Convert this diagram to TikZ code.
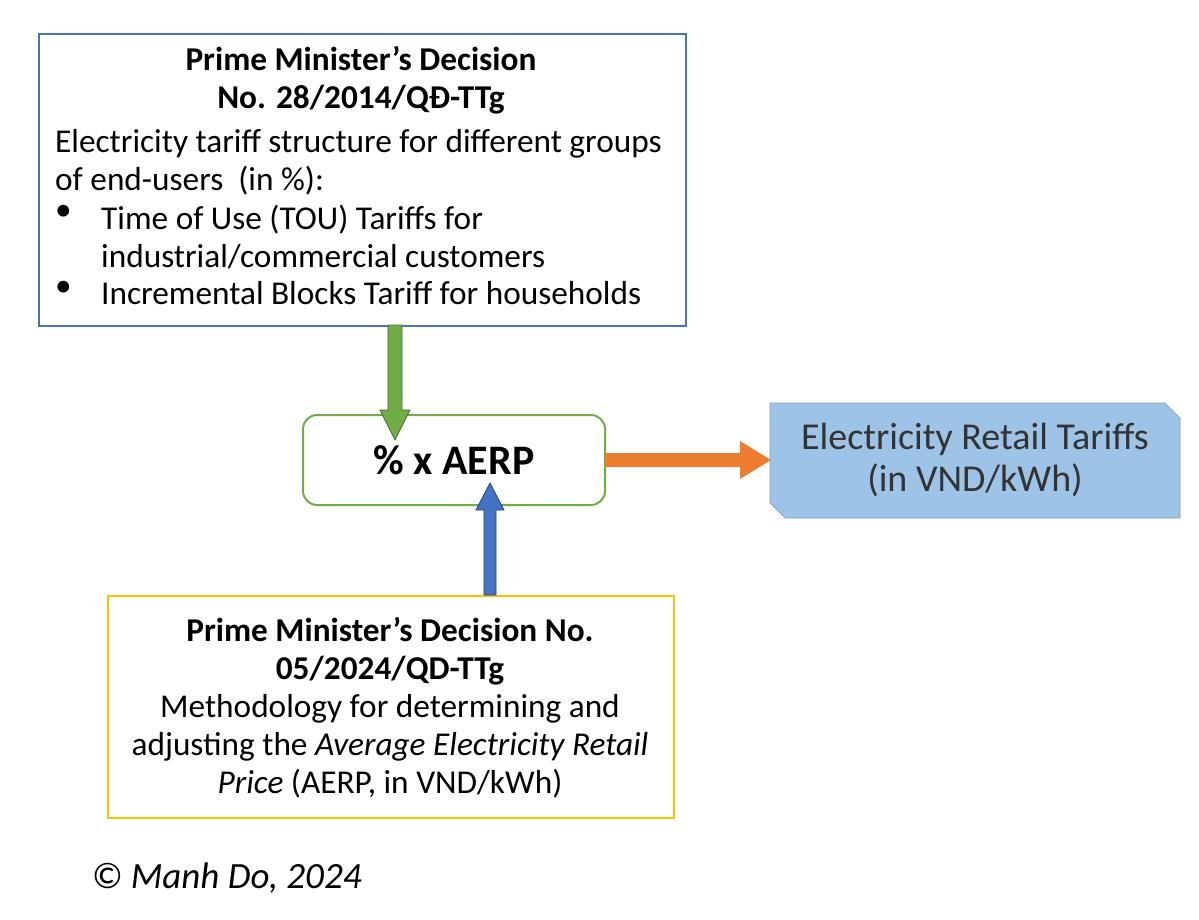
\documentclass[tikz,border=0pt]{standalone}
\usepackage{fontspec}
\setmainfont{Carlito}
\usetikzlibrary{calc}
\definecolor{bblue}{RGB}{68,114,196}
\definecolor{ggreen}{RGB}{112,173,71}
\definecolor{ggold}{RGB}{255,192,0}
\definecolor{oorange}{RGB}{237,125,49}
\definecolor{lblue}{RGB}{157,195,230}
\begin{document}
\begin{tikzpicture}[x=1pt,y=-1pt,
  txt/.style={font=\fontsize{33.3}{38}\selectfont},
  box/.style={line width=2pt,inner sep=0pt}]
\useasboundingbox (0,0) rectangle (1199,919);
% top box
\node[box,draw=bblue,minimum width=647pt,minimum height=292pt,anchor=north west] (top) at (38,33) {};
\node[txt,align=center,anchor=north] (t1) at (361,43) {\textbf{Prime Minister’s Decision}\\\textbf{No. 28/2014/QĐ-TTg}};
\node[txt,align=left,anchor=north west,inner sep=0pt] (t2) at (55,129) {Electricity tariff structure for different groups\\of end-users \ (in \%):};
\node[txt,anchor=north west,inner sep=0pt] (b1) at (55,205) {•};
\node[txt,align=left,anchor=north west,inner sep=0pt] (b1t) at (101,205) {Time of Use (TOU) Tariffs for\\industrial/commercial customers};
\node[txt,anchor=north west,inner sep=0pt] (b2) at (55,281) {•};
\node[txt,anchor=north west,inner sep=0pt] (b2t) at (101,281) {Incremental Blocks Tariff for households};
% middle
\node[box,draw=ggreen,rounded corners=14pt,minimum width=302pt,minimum height=90pt,font=\fontsize{42}{48}\selectfont\bfseries] (mid) at (454,460) {\% x AERP};
% retail
\path[fill=lblue,draw=lblue!80!black,line width=0.6pt] (770,403) -- (1165,403) -- (1180,418) -- (1180,518) -- (785,518) -- (770,503) -- cycle;
\node[font=\fontsize{38}{42}\selectfont,align=center,text=black!80] (ret) at (975,460) {Electricity Retail Tariffs\\(in VND/kWh)};
% bottom
\node[box,draw=ggold,minimum width=566pt,minimum height=222pt,anchor=north west] (bot) at (107,595) {};
\node[txt,align=center,anchor=north] (bt) at (390,614) {\textbf{Prime Minister’s Decision No.}\\\textbf{05/2024/QD-TTg}\\Methodology for determining and\\adjusting the \textit{Average Electricity Retail}\\\textit{Price} (AERP, in VND/kWh)};
% arrows
\draw[fill=ggreen,draw=ggreen!60!black,line width=0.8pt] (388,325) -- (402,325) -- (402,410) -- (410,410) -- (395,440) -- (380,410) -- (388,410) -- cycle;
\draw[fill=bblue,draw=bblue!60!black,line width=0.8pt] (484,595) -- (496,595) -- (496,510) -- (504,510) -- (490,483) -- (476,510) -- (484,510) -- cycle;
\fill[oorange] (605,453) -- (740,453) -- (740,441) -- (771,460) -- (740,479) -- (740,467) -- (605,467) -- cycle;
\node[font=\fontsize{37}{42}\selectfont\itshape,anchor=west] (copy) at (88,878) {© Manh Do, 2024};
\end{tikzpicture}
\end{document}
